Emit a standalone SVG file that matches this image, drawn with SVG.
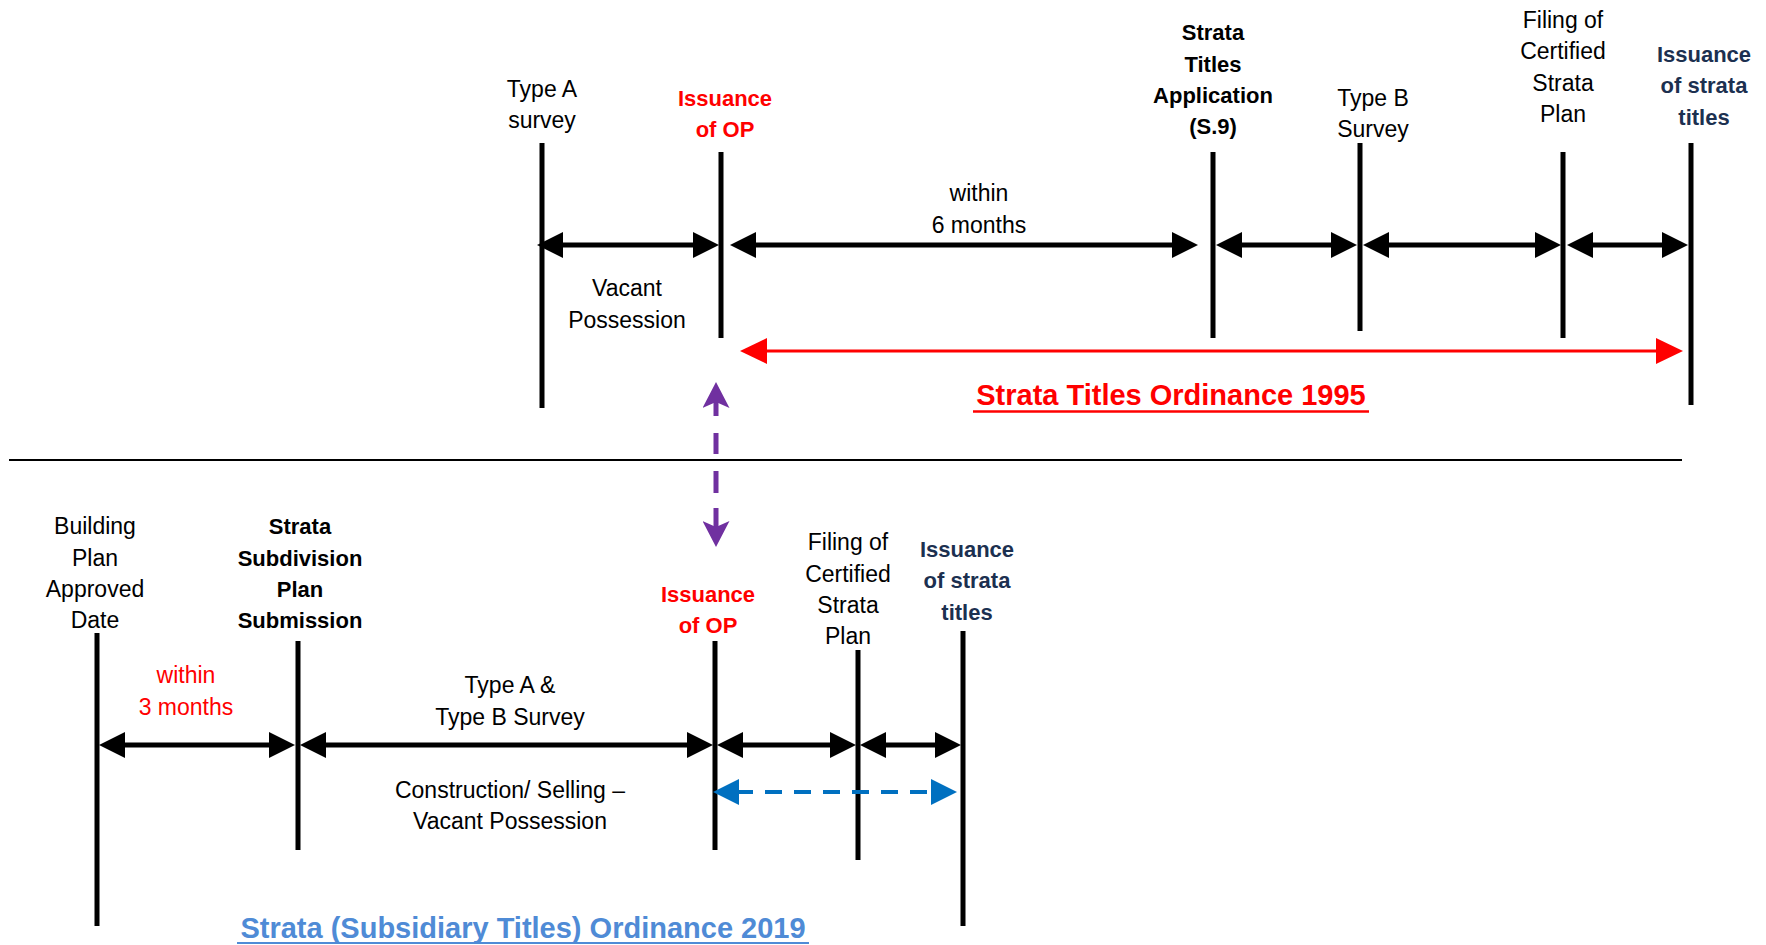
<svg xmlns="http://www.w3.org/2000/svg" width="1766" height="945" viewBox="0 0 1766 945">
<style>
text{font-family:"Liberation Sans",Arial,sans-serif;font-size:23px;text-anchor:middle;fill:#000}
.b{font-weight:bold;font-size:22px}
.red{fill:#FF0000}
.navy{fill:#1C3050}
.title{font-size:29px;font-weight:bold}
.tick{stroke:#000;stroke-width:5;fill:none}
.arr{stroke:#000;stroke-width:5;fill:none;marker-start:url(#ab);marker-end:url(#ab)}
</style>
<defs>
<marker id="ab" markerUnits="userSpaceOnUse" markerWidth="26" markerHeight="26" viewBox="0 0 26 26" refX="16" refY="13" orient="auto-start-reverse"><path d="M0,0 L26,13 L0,26 z" fill="#000"/></marker>
<marker id="ar" markerUnits="userSpaceOnUse" markerWidth="27" markerHeight="26" viewBox="0 0 27 26" refX="17" refY="13" orient="auto-start-reverse"><path d="M0,0 L27,13 L0,26 z" fill="#FF0000"/></marker>
<marker id="abl" markerUnits="userSpaceOnUse" markerWidth="26" markerHeight="26" viewBox="0 0 26 26" refX="16" refY="13" orient="auto-start-reverse"><path d="M0,0 L26,13 L0,26 z" fill="#0070C0"/></marker>
<marker id="ap" markerUnits="userSpaceOnUse" markerWidth="26" markerHeight="27" viewBox="0 0 26 27" refX="8" refY="13.5" orient="auto-start-reverse"><path d="M0,0 L26,13.5 L0,27 L6,13.5 z" fill="#7030A0"/></marker>
</defs>

<line x1="9" y1="460" x2="1682" y2="460" stroke="#000" stroke-width="2"/>

<g id="top-type-a"><line class="tick" x1="542" y1="143" x2="542" y2="408"/><text x="542" y="97">Type A</text><text x="542" y="128">survey</text></g>
<g id="top-issuance-op"><line class="tick" x1="721" y1="152" x2="721" y2="338"/><text class="b red" x="725" y="106">Issuance</text><text class="b red" x="725" y="137">of OP</text></g>
<g id="top-strata-app"><line class="tick" x1="1213" y1="152" x2="1213" y2="338"/><text class="b" x="1213" y="40">Strata</text><text class="b" x="1213" y="72">Titles</text><text class="b" x="1213" y="103">Application</text><text class="b" x="1213" y="134">(S.9)</text></g>
<g id="top-type-b"><line class="tick" x1="1360" y1="143" x2="1360" y2="331"/><text x="1373" y="106">Type B</text><text x="1373" y="137">Survey</text></g>
<g id="top-filing"><line class="tick" x1="1563" y1="152" x2="1563" y2="338"/><text x="1563" y="28">Filing of</text><text x="1563" y="59">Certified</text><text x="1563" y="91">Strata</text><text x="1563" y="122">Plan</text></g>
<g id="top-issuance-titles"><line class="tick" x1="1691" y1="143" x2="1691" y2="405"/><text class="b navy" x="1704" y="62">Issuance</text><text class="b navy" x="1704" y="93">of strata</text><text class="b navy" x="1704" y="125">titles</text></g>
<g id="top-labels"><text x="979" y="201">within</text><text x="979" y="233">6 months</text><text x="627" y="296">Vacant</text><text x="627" y="328">Possession</text></g>
<g id="title-1995"><text class="title red" x="1171" y="405">Strata Titles Ordinance 1995</text><line x1="973" y1="411.5" x2="1369" y2="411.5" stroke="#FF0000" stroke-width="2.5"/></g>

<g id="bot-building"><line class="tick" x1="97" y1="633" x2="97" y2="926"/><text x="95" y="534">Building</text><text x="95" y="566">Plan</text><text x="95" y="597">Approved</text><text x="95" y="628">Date</text></g>
<g id="bot-subdivision"><line class="tick" x1="298" y1="641" x2="298" y2="850"/><text class="b" x="300" y="534">Strata</text><text class="b" x="300" y="566">Subdivision</text><text class="b" x="300" y="597">Plan</text><text class="b" x="300" y="628">Submission</text></g>
<g id="bot-issuance-op"><line class="tick" x1="715" y1="641" x2="715" y2="850"/><text class="b red" x="708" y="602">Issuance</text><text class="b red" x="708" y="633">of OP</text></g>
<g id="bot-filing"><line class="tick" x1="858" y1="650" x2="858" y2="860"/><text x="848" y="550">Filing of</text><text x="848" y="582">Certified</text><text x="848" y="613">Strata</text><text x="848" y="644">Plan</text></g>
<g id="bot-issuance-titles"><line class="tick" x1="963" y1="631" x2="963" y2="926"/><text class="b navy" x="967" y="557">Issuance</text><text class="b navy" x="967" y="588">of strata</text><text class="b navy" x="967" y="620">titles</text></g>
<g id="bot-labels"><text class="red" x="186" y="683">within</text><text class="red" x="186" y="715">3 months</text><text x="510" y="693">Type A &amp;</text><text x="510" y="725">Type B Survey</text><text x="510" y="798">Construction/ Selling –</text><text x="510" y="829">Vacant Possession</text></g>
<g id="title-2019"><text class="title" x="523" y="938" style="fill:#4F8BD6">Strata (Subsidiary Titles) Ordinance 2019</text><line x1="237" y1="943" x2="809" y2="943" stroke="#4F8BD6" stroke-width="2"/></g>

<g id="connectors">
<line class="arr" x1="547" y1="245" x2="709" y2="245"/>
<line class="arr" x1="740" y1="245" x2="1188" y2="245"/>
<line class="arr" x1="1226" y1="245" x2="1347" y2="245"/>
<line class="arr" x1="1373" y1="245" x2="1551" y2="245"/>
<line class="arr" x1="1577" y1="245" x2="1678" y2="245"/>
<line x1="750" y1="351" x2="1673" y2="351" stroke="#FF0000" stroke-width="3" marker-start="url(#ar)" marker-end="url(#ar)"/>
<line x1="716" y1="400" x2="716" y2="529" stroke="#7030A0" stroke-width="5" stroke-dasharray="16 17 21 17 22 15 21" marker-start="url(#ap)" marker-end="url(#ap)"/>
<line class="arr" x1="109" y1="745" x2="285" y2="745"/>
<line class="arr" x1="310" y1="745" x2="703" y2="745"/>
<line class="arr" x1="727" y1="745" x2="846" y2="745"/>
<line class="arr" x1="870" y1="745" x2="951" y2="745"/>
<line x1="723" y1="792" x2="947" y2="792" stroke="#0070C0" stroke-width="4" stroke-dasharray="17 12" stroke-dashoffset="16" marker-start="url(#abl)" marker-end="url(#abl)"/>
</g>
</svg>
